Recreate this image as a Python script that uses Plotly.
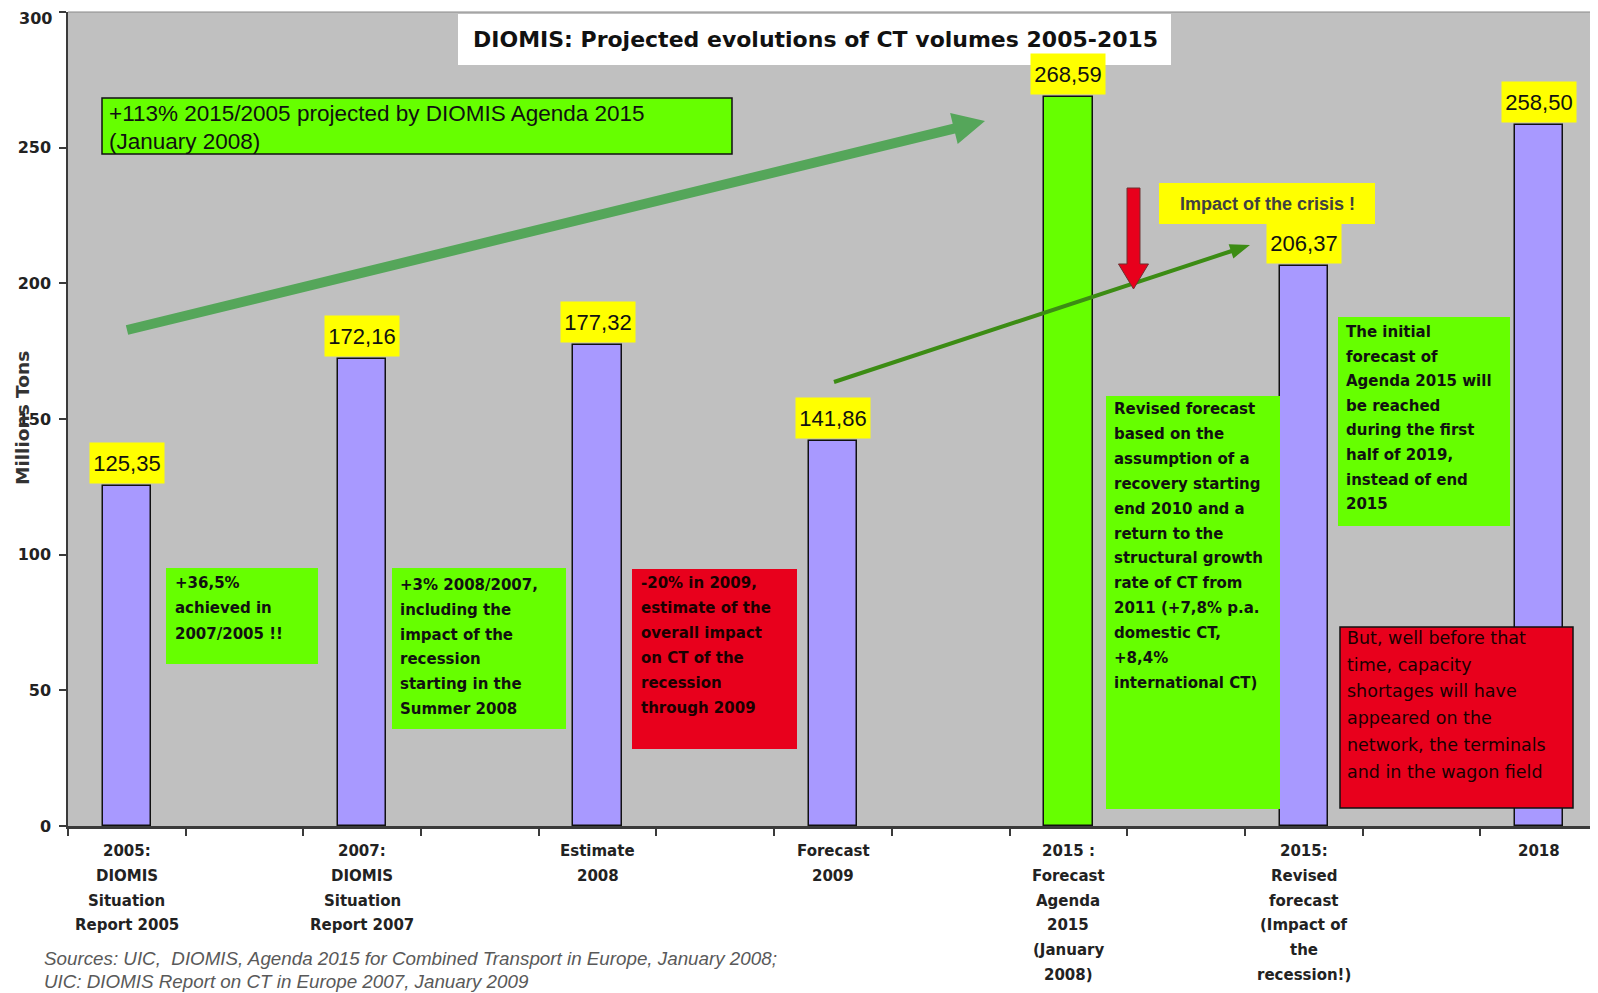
import math
import plotly.graph_objects as go

# ---------------- data ----------------
categories = [
    "2005:\nDIOMIS\nSituation\nReport 2005",
    "2007:\nDIOMIS\nSituation\nReport 2007",
    "Estimate\n2008",
    "Forecast\n2009",
    "2015 :\nForecast\nAgenda\n2015\n(January\n2008)",
    "2015:\nRevised\nforecast\n(Impact of\nthe\nrecession!)",
    "2018",
]
values = [125.35, 172.16, 177.32, 141.86, 268.59, 206.37, 258.50]
bar_colors = ["#A899FF", "#A899FF", "#A899FF", "#A899FF", "#66FF00", "#A899FF", "#A899FF"]
y_ticks = [0, 50, 100, 150, 200, 250, 300]

title_text = "DIOMIS: Projected evolutions of CT volumes 2005-2015"
headline_lines = ["+113% 2015/2005 projected by DIOMIS Agenda 2015", "(January 2008)"]
crisis_text = "Impact of the crisis !"
box1_lines = ["+36,5%", "achieved in", "2007/2005 !!"]
box2_lines = ["+3% 2008/2007,", "including the", "impact of the", "recession",
              "starting in the", "Summer 2008"]
box3_lines = ["-20% in 2009,", "estimate of the", "overall impact", "on CT of the",
              "recession", "through 2009"]
box4_lines = ["Revised forecast", "based on the", "assumption of a", "recovery starting",
              "end 2010 and a", "return to the", "structural growth", "rate of CT from",
              "2011 (+7,8% p.a.", "domestic CT,", "+8,4%", "international CT)"]
box5_lines = ["The initial", "forecast of", "Agenda 2015 will", "be reached",
              "during the first", "half of 2019,", "instead of end", "2015"]
box6_lines = ["But, well before that", "time, capacity", "shortages will have",
              "appeared on the", "network, the terminals", "and in the wagon field"]
source_lines = ["Sources: UIC,  DIOMIS, Agenda 2015 for Combined Transport in Europe, January 2008;",
                "UIC: DIOMIS Report on CT in Europe 2007, January 2009"]

# ---------------- layout geometry (screen pixels) ----------------
OFF = 8                      # page body margin
SW, SH = 1598, 993           # screen size
W, H = SW - OFF, SH - OFF    # figure size
PL, PR, PT, PB = 68, 1598, 12, 826   # plot area on screen
n_slots = 2 * len(values) - 1


def pp(x, y):
    """screen pixel -> paper"""
    return (x - PL) / (PR - PL), (PB - y) / (PB - PT)


GREEN = "#66FF00"
RED = "#E8001C"
YELLOW = "#FFFF00"

slots = [2 * i for i in range(len(values))]

fig = go.Figure()
fig.add_trace(go.Bar(
    x=slots, y=values, width=0.41,
    marker=dict(color=bar_colors, line=dict(color="#111111", width=1.5)),
    hoverinfo="skip", showlegend=False,
))

shapes = []
annotations = []

# top border line
shapes.append(dict(type="line", xref="paper", yref="paper", x0=0, x1=1, y0=1, y1=1,
                   line=dict(color="#8a8a8a", width=1.2), layer="above"))


def rect(x0, y0, x1, y1, fill, border=None, bw=0):
    a0, b0 = pp(x0, y0)
    a1, b1 = pp(x1, y1)
    shapes.append(dict(type="rect", xref="paper", yref="paper", x0=a0, x1=a1, y0=b1, y1=b0,
                       fillcolor=fill, layer="above",
                       line=dict(color=border if border else fill, width=bw if border else 0)))


def lines_text(lines, x, y0, step, size, family, color="#111111", weight="normal",
               anchor="left", style="normal"):
    for k, t in enumerate(lines):
        a, b = pp(x, y0 + k * step)
        annotations.append(dict(xref="paper", yref="paper", x=a, y=b, text=t, showarrow=False,
                                xanchor=anchor, yanchor="middle",
                                font=dict(size=size, family=family, color=color,
                                          weight=weight, style=style)))


def arrow(x0, y0, x1, y1, sw, hl, hw, fill, line_color=None, lw=0):
    dx, dy = x1 - x0, y1 - y0
    L = math.hypot(dx, dy)
    ux, uy = dx / L, dy / L
    nx, ny = -uy, ux
    bx, by = x1 - ux * hl, y1 - uy * hl
    pts = [
        (x0 + nx * sw / 2, y0 + ny * sw / 2),
        (bx + nx * sw / 2, by + ny * sw / 2),
        (bx + nx * hw / 2, by + ny * hw / 2),
        (x1, y1),
        (bx - nx * hw / 2, by - ny * hw / 2),
        (bx - nx * sw / 2, by - ny * sw / 2),
        (x0 - nx * sw / 2, y0 - ny * sw / 2),
    ]
    p = [pp(a, b) for a, b in pts]
    path = "M " + " L ".join(f"{a:.5f},{b:.5f}" for a, b in p) + " Z"
    shapes.append(dict(type="path", xref="paper", yref="paper", path=path, fillcolor=fill,
                       layer="above",
                       line=dict(color=line_color if line_color else fill, width=lw)))


SANS = "Liberation Sans, Arial, sans-serif"
DJ = "DejaVu Sans, Verdana, sans-serif"
TICKFONT = dict(size=16, family=DJ, color="#222222", weight="bold")

# title box
rect(458, 14, 1171, 65, "white")
a, b = pp(815, 40)
annotations.append(dict(xref="paper", yref="paper", x=a, y=b, text=title_text, showarrow=False,
                        xanchor="center", yanchor="middle",
                        font=dict(size=22, family=DJ, color="#111111", weight="bold")))

# headline green box
rect(102, 98, 732, 154, GREEN, "#111111", 1.5)
lines_text(headline_lines, 107, 114, 27, 22.5, SANS)

# arrows
arrow(127, 330, 985, 121, 10, 32, 32, "#55A65A")
arrow(834, 382, 1250, 245, 4, 20, 15, "#3C8C14")
arrow(1133.5, 188, 1133.5, 289, 13, 25, 30, RED, "#6e3030", 1)

# crisis yellow box
rect(1159, 183, 1375, 224, YELLOW)
a, b = pp(1267, 204)
annotations.append(dict(xref="paper", yref="paper", x=a, y=b, text=crisis_text, showarrow=False,
                        xanchor="center", yanchor="middle",
                        font=dict(size=18, family=SANS, color="#404040", weight="bold")))

# text boxes
rect(166, 568, 318, 664, GREEN)
lines_text(box1_lines, 173, 583, 25.3, 15, DJ, weight="bold")
rect(392, 568, 566, 729, GREEN)
lines_text(box2_lines, 398, 585, 24.8, 15, DJ, weight="bold")
rect(632, 569, 797, 749, RED)
lines_text(box3_lines, 639, 583, 25, 15, DJ, weight="bold", color="#1a0000")
rect(1106, 396, 1280, 809, GREEN)
lines_text(box4_lines, 1112, 409, 24.9, 15, DJ, weight="bold")
rect(1338, 317, 1510, 526, GREEN)
lines_text(box5_lines, 1344, 332, 24.6, 15, DJ, weight="bold")
rect(1340, 627, 1573, 808, RED, "#111111", 1.5)
lines_text(box6_lines, 1345, 638, 26.7, 17.5, DJ, color="#1a0000")

# value labels
for s, v in zip(slots, values):
    annotations.append(dict(xref="x", yref="y", x=s, y=v, text=f"{v:.2f}".replace(".", ","),
                            showarrow=False, xanchor="center", yanchor="bottom", yshift=2,
                            bgcolor=YELLOW, width=70, height=36, borderpad=2,
                            font=dict(size=22, family=SANS, color="#111111")))

# category labels
for s, lab in zip(slots, categories):
    for k, t in enumerate(lab.split("\n")):
        _, b = pp(0, 851 + k * 24.8)
        annotations.append(dict(xref="x", yref="paper", x=s, y=b, text=t, showarrow=False,
                                xanchor="center", yanchor="middle",
                                font=dict(size=15, family=DJ, color="#222222", weight="bold")))

# top y tick label (kept inside the page, just below the figure edge)
a, b = pp(53, OFF)
annotations.append(dict(xref="paper", yref="paper", x=a, y=b, text=str(y_ticks[-1]),
                        showarrow=False, xanchor="right", yanchor="top", borderpad=0,
                        font=TICKFONT))

# y-axis title
a, b = pp(23, 418)
annotations.append(dict(xref="paper", yref="paper", x=a, y=b, text="Millions Tons", textangle=-90,
                        showarrow=False, xanchor="center", yanchor="middle",
                        font=dict(size=18.5, family=DJ, color="#333333", weight="bold")))

# sources
lines_text(source_lines, 42, 958, 23, 18.8, SANS, color="#595959", style="italic")

fig.update_layout(
    width=W, height=H,
    margin=dict(l=PL - OFF, r=W - (PR - OFF), t=PT - OFF, b=H - (PB - OFF), pad=0,
                autoexpand=False),
    paper_bgcolor="white", plot_bgcolor="#C0C0C0",
    shapes=shapes, annotations=annotations,
    bargap=0, showlegend=False,
)
fig.update_xaxes(
    range=[-0.5, n_slots - 0.5], tickvals=slots, ticktext=[""] * len(slots), ticks="",
    showgrid=False, zeroline=False, showline=True, linecolor="#3a3a3a", linewidth=2.5,
    minor=dict(tickmode="linear", tick0=-0.5, dtick=1, ticks="outside", ticklen=7,
               tickwidth=1.5, tickcolor="#3a3a3a", showgrid=False),
    fixedrange=True, automargin=False,
)
fig.update_yaxes(
    range=[0, 300], tickvals=y_ticks,
    ticktext=[str(t) for t in y_ticks[:-1]] + [""],
    ticks="outside", ticklen=7, tickwidth=1.5,
    tickcolor="#3a3a3a", showgrid=False, zeroline=False, showline=True,
    linecolor="#3a3a3a", linewidth=1.5, ticklabelstandoff=5, ticklabeloverflow="allow",
    tickfont=TICKFONT, fixedrange=True, automargin=False,
)

fig.write_html("out.html")
